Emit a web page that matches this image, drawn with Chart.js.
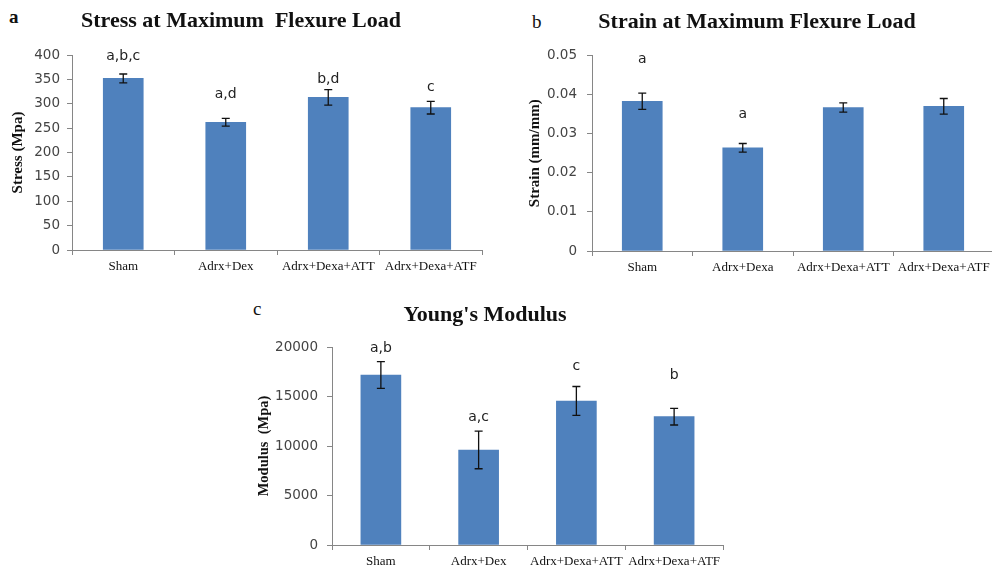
<!DOCTYPE html>
<html>
<head>
<meta charset="utf-8">
<script src="https://cdn.jsdelivr.net/npm/chart.js@4"></script>
<style>
  body { margin: 0; width: 992px; height: 569px; overflow: hidden; background: #fff; position: relative; }
  canvas { position: absolute; }
  .panel { position: absolute; font-family: "Liberation Serif", serif; font-size: 19px; line-height: 19px; font-weight: bold; color: #111; }
</style>
</head>
<body>
<div class="panel" style="left:9px;top:7px">a</div>
<div class="panel" style="left:532px;top:12px;font-weight:normal">b</div>
<div class="panel" style="left:253px;top:299px;font-weight:normal">c</div>

<canvas id="chartA" width="484" height="285" style="left:0;top:0"></canvas>
<canvas id="chartB" width="476" height="285" style="left:520px;top:0"></canvas>
<canvas id="chartC" width="478" height="279" style="left:247px;top:290px"></canvas>

<script>
// Datos
const grupos = ['Sham', 'Adrx+Dex', 'Adrx+Dexa+ATT', 'Adrx+Dexa+ATF'];
const gruposB = ['Sham', 'Adrx+Dexa', 'Adrx+Dexa+ATT', 'Adrx+Dexa+ATF'];

const stressVals = [352, 262, 313, 292];
const stressErr = [9, 8, 16, 13];
const stressLetras = ['a,b,c', 'a,d', 'b,d', 'c'];
const stressLetrasY = [397, 319, 351, 333];
const stressTicks = { max: 400, step: 50 };

const strainVals = [0.0383, 0.0264, 0.0367, 0.0370];
const strainErr = [0.0021, 0.0011, 0.0012, 0.0020];
const strainLetras = ['a', 'a', '', ''];
const strainLetrasY = [0.0491, 0.0349, 0, 0];
const strainTicks = { max: 0.05, step: 0.01 };

const modVals = [17170, 9600, 14550, 12960];
const modErr = [1350, 1900, 1460, 840];
const modLetras = ['a,b', 'a,c', 'c', 'b'];
const modLetrasY = [19870, 12900, 18010, 17170];
const modTicks = { max: 20000, step: 5000 };

const azul = '#4F81BD';
const gris = '#868686';

// Barras de error y letras
function errorPlugin(err, letras, letrasY) {
    return {
        id: 'errores',
        afterDatasetsDraw(chart) {
            const ctx = chart.ctx;
            const x = chart.scales.x, y = chart.scales.y;
            const vals = chart.data.datasets[0].data;
            ctx.save();
            ctx.strokeStyle = '#111';
            ctx.lineWidth = 1.3;
            vals.forEach((v, i) => {
                const px = x.getPixelForValue(i);
                const top = y.getPixelForValue(v + err[i]);
                const bot = y.getPixelForValue(v - err[i]);
                ctx.beginPath();
                ctx.moveTo(px, top); ctx.lineTo(px, bot);
                ctx.moveTo(px - 4, top); ctx.lineTo(px + 4, top);
                ctx.moveTo(px - 4, bot); ctx.lineTo(px + 4, bot);
                ctx.stroke();
            });
            ctx.fillStyle = '#222';
            ctx.font = '14px "DejaVu Sans"';
            ctx.textAlign = 'center';
            ctx.textBaseline = 'middle';
            letras.forEach((t, i) => {
                if (!t) return;
                ctx.fillText(t, x.getPixelForValue(i), y.getPixelForValue(letrasY[i]));
            });
            ctx.restore();
        }
    };
}

function crearGrafica(id, cfg) {
    return new Chart(document.getElementById(id), {
        type: 'bar',
        data: {
            labels: cfg.labels,
            datasets: [{ data: cfg.vals, backgroundColor: azul, barThickness: 40 }]
        },
        options: {
            responsive: false,
            animation: false,
            layout: { padding: { left: 0, right: 2, top: 0, bottom: 0 } },
            plugins: {
                legend: { display: false },
                tooltip: { enabled: false },
                title: {
                    display: true,
                    text: cfg.titulo,
                    color: '#111',
                    font: { family: '"Liberation Serif", serif', size: 22, weight: 'bold', lineHeight: 1.2 },
                    padding: { top: cfg.tituloPad[0], bottom: cfg.tituloPad[1] }
                }
            },
            scales: {
                x: {
                    offset: true,
                    afterFit: s => { s.height = cfg.altoX; },
                    grid: { display: true, offset: true, drawOnChartArea: false, drawTicks: true, tickLength: 5, color: gris },
                    border: { display: true, color: gris },
                    ticks: {
                        color: '#111', padding: 4, autoSkip: false, maxRotation: 0,
                        font: { family: '"Liberation Serif", serif', size: 13 }
                    }
                },
                y: {
                    min: 0,
                    max: cfg.ticks.max,
                    afterFit: s => { s.width = cfg.anchoY; },
                    grid: { display: true, drawOnChartArea: false, drawTicks: true, tickLength: 5, color: gris },
                    border: { display: true, color: gris },
                    ticks: {
                        stepSize: cfg.ticks.step,
                        color: '#444',
                        padding: cfg.tickPad,
                        font: { family: '"DejaVu Sans", sans-serif', size: 13.5 },
                        callback: v => String(v)
                    },
                    title: {
                        display: true,
                        text: cfg.tituloY,
                        color: '#111',
                        font: { family: '"Liberation Serif", serif', size: cfg.tamY, weight: 'bold', lineHeight: 1.2 },
                        padding: { top: cfg.tituloYPad, bottom: 0 }
                    }
                }
            }
        },
        plugins: [errorPlugin(cfg.err, cfg.letras, cfg.letrasY)]
    });
}

// a) Stress
crearGrafica('chartA', {
    labels: grupos, vals: stressVals, err: stressErr, letras: stressLetras, letrasY: stressLetrasY,
    ticks: stressTicks, titulo: 'Stress at Maximum  Flexure Load', tituloPad: [7.8, 20.8],
    altoX: 35, anchoY: 72, tickPad: 7, tituloY: 'Stress (Mpa)', tamY: 15, tituloYPad: 9
});

// b) Strain
crearGrafica('chartB', {
    labels: gruposB, vals: strainVals, err: strainErr, letras: strainLetras, letrasY: strainLetrasY,
    ticks: strainTicks, titulo: 'Strain at Maximum Flexure Load', tituloPad: [9.3, 19.8],
    altoX: 34, anchoY: 72, tickPad: 10, tituloY: 'Strain (mm/mm)', tamY: 15, tituloYPad: 6
});

// c) Young's Modulus
crearGrafica('chartC', {
    labels: grupos, vals: modVals, err: modErr, letras: modLetras, letrasY: modLetrasY,
    ticks: modTicks, titulo: "Young's Modulus", tituloPad: [11.8, 18.8],
    altoX: 24, anchoY: 85, tickPad: 9, tituloY: 'Modulus  (Mpa)', tamY: 14.5, tituloYPad: 9
});
</script>
</body>
</html>
